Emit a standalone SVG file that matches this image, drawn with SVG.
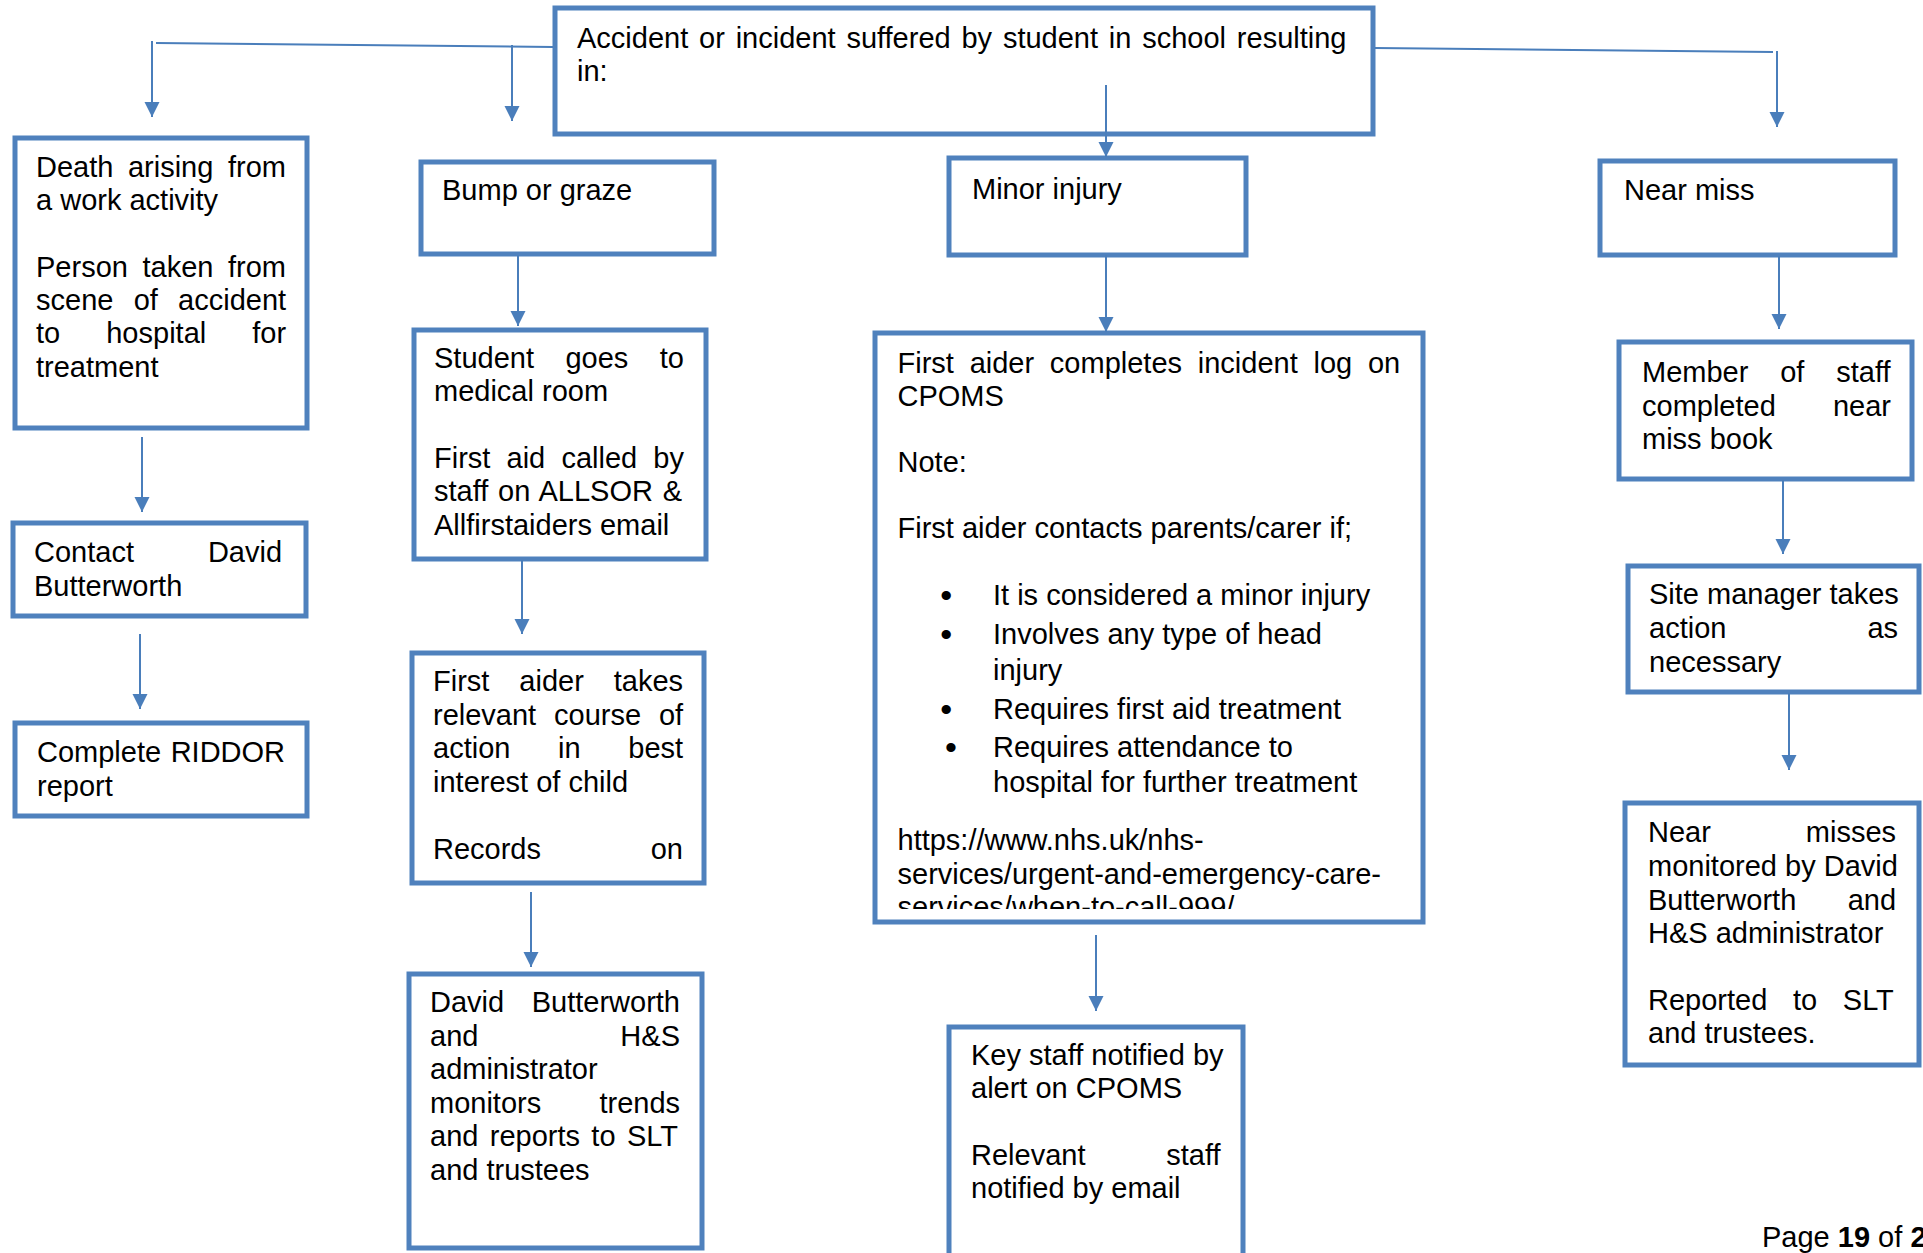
<svg xmlns="http://www.w3.org/2000/svg" width="1923" height="1253" viewBox="0 0 1923 1253">
<style>
.box{fill:#fff;stroke:#4F81BD;stroke-width:5}
.t{font-family:"Liberation Sans",Arial,sans-serif;font-size:29px;fill:#000}
.bul{font-family:"Liberation Sans",Arial,sans-serif;font-size:34px;fill:#000}
.c{stroke:#4A7EBB;stroke-width:2;fill:none}
.a{marker-end:url(#arr)}
.b{font-weight:bold}
</style>
<defs>
<marker id="arr" markerUnits="userSpaceOnUse" markerWidth="16" markerHeight="16" viewBox="0 0 16 16" refX="15" refY="8" orient="auto">
<path d="M0,0.5 L15,8 L0,15.5 Z" fill="#4A7EBB"/>
</marker>
<clipPath id="cpomsClip"><rect x="870" y="330" width="560" height="579"/></clipPath>
</defs>
<rect width="1923" height="1253" fill="#fff"/>

<g id="top">
<rect class="box" x="555" y="8" width="818" height="126"/>
<text class="t"><tspan x="577" y="48" word-spacing="2.75">Accident or incident suffered by student in school resulting</tspan><tspan x="577" y="81">in:</tspan></text>
</g>

<g id="death">
<rect class="box" x="15" y="138" width="292" height="290"/>
<text class="t">
<tspan x="36" y="177" word-spacing="6.5">Death arising from</tspan>
<tspan x="36" y="210">a work activity</tspan>
<tspan x="36" y="277" word-spacing="6.5">Person taken from</tspan>
<tspan x="36" y="310" word-spacing="12.2">scene of accident</tspan>
<tspan x="36" y="343" word-spacing="38">to hospital for</tspan>
<tspan x="36" y="377">treatment</tspan>
</text>
</g>

<g id="contact">
<rect class="box" x="13" y="523" width="293" height="93"/>
<text class="t"><tspan x="34" y="562" word-spacing="65.9">Contact David</tspan><tspan x="34" y="596">Butterworth</tspan></text>
</g>

<g id="riddor">
<rect class="box" x="15" y="723" width="292" height="93"/>
<text class="t"><tspan x="37" y="762" word-spacing="1.5">Complete RIDDOR</tspan><tspan x="37" y="796">report</tspan></text>
</g>

<g id="bump">
<rect class="box" x="421" y="162" width="293" height="92"/>
<text class="t" x="442" y="200">Bump or graze</text>
</g>

<g id="student">
<rect class="box" x="414" y="330" width="292" height="229"/>
<text class="t">
<tspan x="434" y="367.5" word-spacing="23.4">Student goes to</tspan>
<tspan x="434" y="401">medical room</tspan>
<tspan x="434" y="468" word-spacing="8.1">First aid called by</tspan>
<tspan x="434" y="501" word-spacing="1.7">staff on ALLSOR &amp;</tspan>
<tspan x="434" y="535">Allfirstaiders email</tspan>
</text>
</g>

<g id="firstaider">
<rect class="box" x="412" y="653" width="292" height="230"/>
<text class="t">
<tspan x="433" y="691" word-spacing="21.9">First aider takes</tspan>
<tspan x="433" y="725" word-spacing="9.8">relevant course of</tspan>
<tspan x="433" y="758" word-spacing="39.6">action in best</tspan>
<tspan x="433" y="792">interest of child</tspan>
<tspan x="433" y="859" word-spacing="101.7">Records on</tspan>
</text>
</g>

<g id="david">
<rect class="box" x="409" y="974" width="293" height="274"/>
<text class="t">
<tspan x="430" y="1012" word-spacing="19.5">David Butterworth</tspan>
<tspan x="430" y="1046" word-spacing="133.9">and H&amp;S</tspan>
<tspan x="430" y="1079">administrator</tspan>
<tspan x="430" y="1113" word-spacing="50.2">monitors trends</tspan>
<tspan x="430" y="1146" word-spacing="3.3">and reports to SLT</tspan>
<tspan x="430" y="1180">and trustees</tspan>
</text>
</g>

<g id="minor">
<rect class="box" x="949" y="158" width="297" height="97"/>
<text class="t" x="972" y="199">Minor injury</text>
</g>

<g id="cpoms">
<rect class="box" x="875" y="333" width="548" height="589"/>
<g clip-path="url(#cpomsClip)">
<text class="t">
<tspan x="897.5" y="373" word-spacing="7.7">First aider completes incident log on</tspan>
<tspan x="897.5" y="406">CPOMS</tspan>
<tspan x="897.5" y="472">Note:</tspan>
<tspan x="897.5" y="538">First aider contacts parents/carer if;</tspan>
<tspan x="993" y="605">It is considered a minor injury</tspan>
<tspan x="993" y="644">Involves any type of head</tspan>
<tspan x="993" y="680">injury</tspan>
<tspan x="993" y="719">Requires first aid treatment</tspan>
<tspan x="993" y="757">Requires attendance to</tspan>
<tspan x="993" y="792">hospital for further treatment</tspan>
<tspan x="897.5" y="850">https://www.nhs.uk/nhs-</tspan>
<tspan x="897.5" y="884">services/urgent-and-emergency-care-</tspan>
<tspan x="897.5" y="917">services/when-to-call-999/</tspan>
</text>
<text class="bul" text-anchor="middle">
<tspan x="951" y="607">•</tspan>
<tspan x="951" y="646">•</tspan>
<tspan x="951" y="721">•</tspan>
<tspan x="951" y="759">•</tspan>
</text>
</g>
</g>

<g id="keystaff">
<rect class="box" x="949" y="1027" width="294" height="250"/>
<text class="t">
<tspan x="971" y="1065">Key staff notified by</tspan>
<tspan x="971" y="1098">alert on CPOMS</tspan>
<tspan x="971" y="1165" word-spacing="72.7">Relevant staff</tspan>
<tspan x="971" y="1198">notified by email</tspan>
</text>
</g>

<g id="nearmiss">
<rect class="box" x="1600" y="161" width="295" height="94"/>
<text class="t" x="1624" y="200">Near miss</text>
</g>

<g id="member">
<rect class="box" x="1619" y="342" width="293" height="137"/>
<text class="t">
<tspan x="1642" y="382" word-spacing="23.8">Member of staff</tspan>
<tspan x="1642" y="415.5" word-spacing="49.1">completed near</tspan>
<tspan x="1642" y="449">miss book</tspan>
</text>
</g>

<g id="site">
<rect class="box" x="1628" y="566" width="291" height="126"/>
<text class="t">
<tspan x="1649" y="604">Site manager takes</tspan>
<tspan x="1649" y="638" word-spacing="133">action as</tspan>
<tspan x="1649" y="672">necessary</tspan>
</text>
</g>

<g id="nearmisses">
<rect class="box" x="1625" y="803" width="294" height="262"/>
<text class="t">
<tspan x="1648" y="842" word-spacing="86.9">Near misses</tspan>
<tspan x="1648" y="876">monitored by David</tspan>
<tspan x="1648" y="910" word-spacing="43.3">Butterworth and</tspan>
<tspan x="1648" y="943">H&amp;S administrator</tspan>
<tspan x="1648" y="1010" word-spacing="17.6">Reported to SLT</tspan>
<tspan x="1648" y="1043">and trustees.</tspan>
</text>
</g>

<g id="connectors">
<polyline class="c" points="156,43 553,47"/>
<line class="c a" x1="152" y1="41" x2="152" y2="117"/>
<line class="c a" x1="512" y1="45" x2="512" y2="121"/>
<polyline class="c" points="1375,48 1773,52"/>
<line class="c a" x1="1777" y1="51" x2="1777" y2="127"/>
<line class="c a" x1="1106" y1="85" x2="1106" y2="157"/>
<line class="c a" x1="518" y1="255" x2="518" y2="326"/>
<line class="c a" x1="522" y1="560" x2="522" y2="634"/>
<line class="c a" x1="531" y1="892" x2="531" y2="967"/>
<line class="c a" x1="142" y1="437" x2="142" y2="512"/>
<line class="c a" x1="140" y1="634" x2="140" y2="709"/>
<line class="c a" x1="1106" y1="255" x2="1106" y2="332"/>
<line class="c a" x1="1096" y1="935" x2="1096" y2="1011"/>
<line class="c a" x1="1779" y1="256" x2="1779" y2="329"/>
<line class="c a" x1="1783" y1="480" x2="1783" y2="554"/>
<line class="c a" x1="1789" y1="693" x2="1789" y2="770"/>
</g>

<g id="footer">
<text class="t" x="1762" y="1247">Page <tspan class="b">19</tspan> of <tspan class="b">2</tspan></text>
</g>
</svg>
